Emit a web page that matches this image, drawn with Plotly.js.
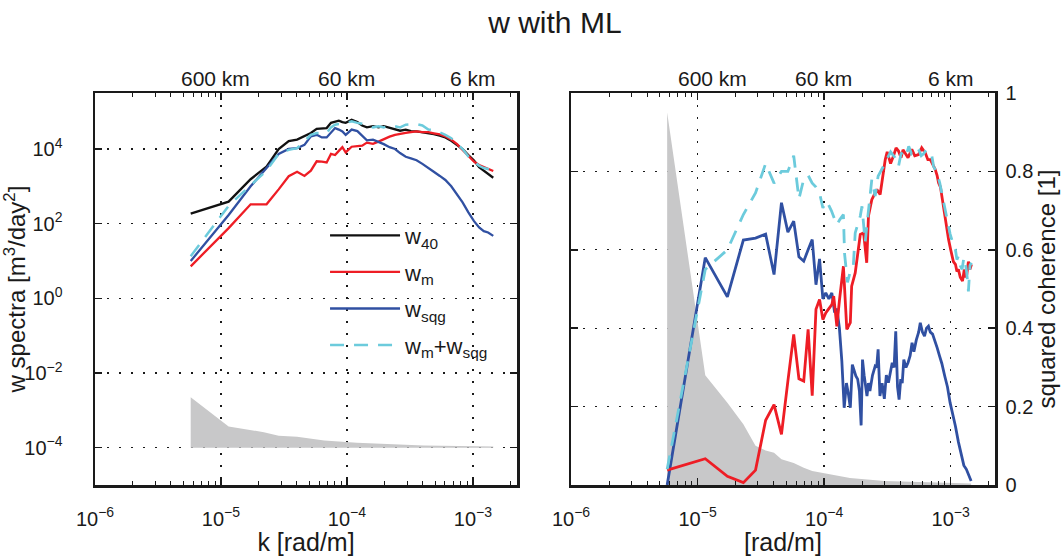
<!DOCTYPE html>
<html><head><meta charset="utf-8">
<script src="https://cdn.plot.ly/plotly-3.0.1.min.js"></script>
<style>html,body{margin:0;padding:0;background:#fff}#chart{width:1063px;height:556px}</style>
</head><body><div id="chart"></div>
<script>
// ---------- data ----------
// wavenumber k [rad/m] for the spectra
const kSpec = [5.75e-6, 1.15e-5, 1.72e-5, 2.3e-5, 2.87e-5, 3.45e-5, 4.02e-5, 4.6e-5, 5.17e-5, 5.75e-5,
  6.32e-5, 6.9e-5, 7.47e-5, 8.05e-5, 8.62e-5, 9.2e-5, 9.77e-5, 1.09e-4, 1.21e-4, 1.32e-4,
  1.44e-4, 1.61e-4, 1.78e-4, 1.96e-4, 2.18e-4, 2.41e-4, 2.64e-4, 2.93e-4, 3.22e-4, 3.57e-4,
  3.97e-4, 4.43e-4, 4.89e-4, 5.46e-4, 6.04e-4, 6.73e-4, 7.48e-4, 8.28e-4, 9.2e-4, 1.02e-3,
  1.12e-3, 1.22e-3, 1.32e-3, 1.41e-3, 1.45e-3];
// w spectra [m^3/day^2]
const w40 = [186, 389, 1550, 3390, 10000, 16200, 17800, 21900, 26900, 34700,
  35500, 36300, 50100, 55000, 57500, 52500, 50100, 60300, 52500, 42700,
  38000, 40700, 38000, 40700, 36300, 33100, 30900, 33100, 30200, 29500,
  28200, 26900, 25100, 22900, 20400, 16600, 12900, 10000, 6900, 4900,
  3240, 2630, 2140, 1860, 1700];
const wM = [7.2, 76, 330, 330, 830, 1860, 2450, 1900, 2630, 4680,
  4570, 4370, 7400, 6900, 8900, 11200, 8100, 11500, 12000, 12300,
  14800, 13800, 15800, 18600, 21400, 24000, 25700, 26900, 28200, 29500,
  28200, 28200, 26300, 24500, 21900, 17800, 13500, 9500, 6200, 4570,
  3720, 3240, 2880, 2690, 2570];
const wSqg = [10, 170, 1000, 3020, 7400, 10000, 10500, 12900, 21900, 24000,
  20400, 20400, 28200, 36300, 33100, 29500, 24000, 33100, 30200, 22900,
  17000, 17800, 15800, 13500, 11200, 10000, 7800, 6200, 5600, 5000,
  4000, 3020, 2450, 1900, 1480, 1000, 620, 370, 200, 117,
  79, 63, 58, 51, 47];
const wSum = [13.5, 300, 1070, 2630, 7400, 9500, 10500, 16600, 24000, 26900,
  26900, 26900, 38000, 44700, 46800, 46800, 50100, 55000, 50100, 46800,
  44700, 38000, 40700, 38000, 42700, 40700, 38000, 44700, 44700, 46800,
  42700, 33100, 32400, 28200, 24000, 19500, 14100, 10000, 6300, 4570,
  3550, 3090, 2880, 2750, 2690];
// grey band in the spectra panel
const specErrK = [5.75e-6, 1.15e-5, 2.19e-5, 2.87e-5, 4.02e-5, 6.6e-5, 1.2e-4, 2.21e-4, 4.07e-4, 1.45e-3];
const specErr = [2.24e-3, 3.7e-4, 2.6e-4, 2.1e-4, 1.95e-4, 1.55e-4, 1.35e-4, 1.23e-4, 1.15e-4, 1.07e-4];
const specErrBase = 1e-4;

// squared coherence
const cohSqgK = [5.75e-6, 1.15e-5, 1.72e-5, 2.3e-5, 2.87e-5, 3.45e-5, 4.02e-5, 4.6e-5, 5.17e-5, 5.75e-5,
  6.32e-5, 6.9e-5, 7.47e-5, 8.05e-5, 8.62e-5, 9.2e-5, 9.77e-5, 1.03e-4, 1.09e-4, 1.15e-4,
  1.21e-4, 1.26e-4, 1.32e-4, 1.38e-4, 1.44e-4, 1.5e-4, 1.55e-4, 1.61e-4, 1.67e-4, 1.73e-4,
  1.78e-4, 1.84e-4, 1.9e-4, 1.96e-4, 2.01e-4, 2.07e-4, 2.13e-4, 2.18e-4, 2.24e-4, 2.3e-4,
  2.41e-4, 2.53e-4, 2.6e-4, 2.67e-4, 2.76e-4, 2.87e-4, 2.99e-4, 3.1e-4, 3.22e-4, 3.33e-4,
  3.45e-4, 3.57e-4, 3.68e-4, 3.8e-4, 3.91e-4, 4.03e-4, 4.14e-4, 4.26e-4, 4.43e-4, 4.6e-4,
  4.78e-4, 4.95e-4, 5.12e-4, 5.35e-4, 5.58e-4, 5.75e-4, 5.98e-4, 6.21e-4, 6.44e-4, 6.67e-4,
  6.9e-4, 7.19e-4, 7.48e-4, 7.82e-4, 8.17e-4, 8.51e-4, 8.97e-4, 9.43e-4, 9.89e-4, 1.04e-3,
  1.09e-3, 1.15e-3, 1.21e-3, 1.27e-3, 1.33e-3, 1.39e-3, 1.45e-3];
const cohSqg = [0, 0.58, 0.48, 0.625, 0.63, 0.64, 0.537, 0.72, 0.645, 0.673,
  0.582, 0.571, 0.60, 0.626, 0.511, 0.577, 0.475, 0.49, 0.475, 0.49,
  0.44, 0.45, 0.40, 0.316, 0.197, 0.26, 0.235, 0.197, 0.307, 0.29,
  0.278, 0.27, 0.24, 0.152, 0.32, 0.28, 0.25, 0.227, 0.26, 0.24,
  0.28, 0.303, 0.30, 0.346, 0.227, 0.26, 0.22, 0.28, 0.261, 0.29,
  0.312, 0.30, 0.392, 0.25, 0.218, 0.27, 0.26, 0.32, 0.30, 0.312,
  0.33, 0.363, 0.34, 0.37, 0.39, 0.414, 0.39, 0.38, 0.40, 0.405,
  0.39, 0.385, 0.371, 0.35, 0.329, 0.31, 0.278, 0.25, 0.21, 0.18,
  0.15, 0.11, 0.08, 0.05, 0.04, 0.025, 0.01];
const cohMK = [5.75e-6, 1.15e-5, 1.72e-5, 2.3e-5, 2.87e-5, 3.45e-5, 4.02e-5, 4.6e-5, 5.17e-5, 5.75e-5,
  6.32e-5, 6.9e-5, 7.47e-5, 8.05e-5, 8.62e-5, 9.2e-5, 9.77e-5, 1.03e-4, 1.09e-4, 1.15e-4,
  1.19e-4, 1.26e-4, 1.32e-4, 1.38e-4, 1.42e-4, 1.51e-4, 1.61e-4, 1.65e-4, 1.76e-4, 1.93e-4,
  2.05e-4, 2.17e-4, 2.24e-4, 2.38e-4, 2.61e-4, 2.77e-4, 2.94e-4, 3.04e-4, 3.15e-4, 3.23e-4,
  3.35e-4, 3.53e-4, 3.7e-4, 3.87e-4, 4.05e-4, 4.2e-4, 4.38e-4, 4.6e-4, 4.93e-4, 5.2e-4,
  5.57e-4, 5.9e-4, 6.3e-4, 6.6e-4, 6.9e-4, 7.55e-4, 7.8e-4, 8.02e-4, 8.3e-4, 8.51e-4,
  8.8e-4, 9.06e-4, 9.3e-4, 9.62e-4, 1.0e-3, 1.02e-3, 1.05e-3, 1.09e-3, 1.12e-3, 1.15e-3,
  1.19e-3, 1.24e-3, 1.28e-3, 1.31e-3, 1.34e-3, 1.38e-3, 1.42e-3, 1.46e-3];
const cohM = [0.038, 0.067, 0.022, 0.006, 0.038, 0.165, 0.205, 0.129, 0.265, 0.384,
  0.271, 0.265, 0.397, 0.228, 0.448, 0.473, 0.422, 0.439, 0.45, 0.46,
  0.482, 0.405, 0.47, 0.52, 0.558, 0.397, 0.414, 0.507, 0.541, 0.639,
  0.643, 0.567, 0.686, 0.728, 0.754, 0.741, 0.796, 0.83, 0.85, 0.84,
  0.82, 0.839, 0.86, 0.852, 0.835, 0.855, 0.847, 0.835, 0.856, 0.84,
  0.843, 0.86, 0.847, 0.83, 0.83, 0.805, 0.79, 0.771, 0.76, 0.737,
  0.70, 0.677, 0.66, 0.626, 0.60, 0.584, 0.57, 0.563, 0.545, 0.55,
  0.53, 0.52, 0.55, 0.53, 0.537, 0.57, 0.55, 0.563];
const cohSumK = [5.75e-6, 1.15e-5, 1.72e-5, 2.3e-5, 2.87e-5, 3.45e-5, 4.02e-5, 4.6e-5, 5.17e-5, 5.75e-5,
  6.32e-5, 6.9e-5, 7.47e-5, 8.05e-5, 8.62e-5, 9.2e-5, 9.77e-5, 1.05e-4, 1.14e-4, 1.26e-4,
  1.33e-4, 1.42e-4, 1.45e-4, 1.53e-4, 1.61e-4, 1.7e-4, 1.76e-4, 1.93e-4, 1.99e-4, 2.11e-4,
  2.24e-4, 2.38e-4, 2.53e-4, 2.67e-4, 2.94e-4, 3.04e-4, 3.12e-4, 3.35e-4, 3.63e-4, 3.87e-4,
  4.05e-4, 4.25e-4, 4.45e-4, 4.66e-4, 4.9e-4, 5.1e-4, 5.35e-4, 5.57e-4, 5.85e-4, 6.1e-4,
  6.45e-4, 6.8e-4, 7.1e-4, 7.32e-4, 7.8e-4, 8.2e-4, 8.51e-4, 8.75e-4, 9.0e-4, 9.3e-4,
  9.62e-4, 9.9e-4, 1.02e-3, 1.05e-3, 1.09e-3, 1.12e-3, 1.15e-3, 1.19e-3, 1.23e-3, 1.27e-3,
  1.3e-3, 1.34e-3, 1.38e-3, 1.42e-3, 1.46e-3];
const cohSum = [0.04, 0.55, 0.60, 0.69, 0.745, 0.82, 0.77, 0.80, 0.80, 0.84,
  0.73, 0.78, 0.79, 0.77, 0.76, 0.745, 0.707, 0.724, 0.70, 0.664,
  0.677, 0.69, 0.59, 0.517, 0.545, 0.558, 0.643, 0.686, 0.711, 0.62,
  0.70, 0.779, 0.737, 0.788, 0.813, 0.826, 0.83, 0.85, 0.835, 0.813,
  0.845, 0.85, 0.84, 0.864, 0.845, 0.85, 0.86, 0.856, 0.84, 0.845,
  0.856, 0.845, 0.839, 0.813, 0.796, 0.77, 0.745, 0.72, 0.70, 0.68,
  0.66, 0.64, 0.626, 0.61, 0.60, 0.575, 0.584, 0.56, 0.55, 0.58,
  0.571, 0.54, 0.494, 0.56, 0.567];
// grey significance level for the coherence
const cohSigK = [5.75e-6, 1.15e-5, 1.72e-5, 2.3e-5, 2.87e-5, 3.45e-5, 4.02e-5, 4.6e-5, 5.75e-5, 6.9e-5,
  8.05e-5, 9.77e-5, 1.6e-4, 3.0e-4, 7.6e-4, 1.45e-3];
const cohSig = [0.95, 0.28, 0.21, 0.155, 0.10, 0.088, 0.082, 0.066, 0.056, 0.044,
  0.036, 0.031, 0.018, 0.01, 0.006, 0.004];

// tick labels
const xTickVals = [1e-6, 1e-5, 1e-4, 1e-3];
const xTickText = ['10<sup>\u22126</sup>', '10<sup>\u22125</sup>', '10<sup>\u22124</sup>', '10<sup>\u22123</sup>'];
const ySpecTickVals = [1e-4, 1e-2, 1, 1e2, 1e4];
const ySpecTickText = ['10<sup>\u22124</sup>', '10<sup>\u22122</sup>', '10<sup>0</sup>', '10<sup>2</sup>', '10<sup>4</sup>'];
const yCohTickVals = [0, 0.2, 0.4, 0.6, 0.8, 1];
const yCohTickText = ['0', '0.2', '0.4', '0.6', '0.8', '1'];
const topLabels = ['600 km', '60 km', '6 km'];

// ---------- style ----------
const FONT = 'Liberation Sans, Arial, Helvetica, sans-serif';
const INK = '#1a1a1a';
const C_BLACK = '#111111', C_RED = '#ee1d25', C_BLUE = '#3050a2', C_CYAN = '#6ccbdc', C_GREY = '#c8c8c9';

const minorK = [];
for (let d = -6; d <= -3; d++) for (let m = 2; m <= 9; m++) minorK.push(m * Math.pow(10, d));

function xAxis(domain, anchor, title) {
  return {
    type: 'log', domain: domain, anchor: anchor, range: [-6, -2.65],
    tickmode: 'array', tickvals: xTickVals, ticktext: xTickText,
    ticks: 'inside', ticklen: 7, tickwidth: 1.5, tickcolor: INK,
    showline: true, linewidth: 2.5, linecolor: INK, mirror: 'ticks',
    showgrid: true, gridcolor: INK, gridwidth: 1.3, griddash: '2px,10px',
    zeroline: false, ticklabelstandoff: 14,
    tickfont: {family: FONT, size: 20, color: INK},
    minor: {tickmode: 'array', tickvals: minorK, ticks: 'inside', ticklen: 4, tickwidth: 1, tickcolor: INK, showgrid: false},
    title: {text: title, font: {family: FONT, size: 25, color: INK}, standoff: 2}
  };
}

const traces = [
  {x: [specErrK[0], specErrK[specErrK.length - 1]], y: [specErrBase, specErrBase], xaxis: 'x', yaxis: 'y',
   mode: 'lines', line: {width: 0, color: C_GREY}, showlegend: false, hoverinfo: 'skip'},
  {x: specErrK, y: specErr, xaxis: 'x', yaxis: 'y', mode: 'lines', fill: 'tonexty', fillcolor: C_GREY,
   line: {width: 0, color: C_GREY}, showlegend: false, hoverinfo: 'skip'},
  {x: kSpec, y: w40, xaxis: 'x', yaxis: 'y', mode: 'lines', name: 'w<sub>40</sub>', legendgroup: 'a',
   line: {color: C_BLACK, width: 2.3}},
  {x: kSpec, y: wM, xaxis: 'x', yaxis: 'y', mode: 'lines', name: 'w<sub>m</sub>', legendgroup: 'b',
   line: {color: C_RED, width: 2.3}},
  {x: kSpec, y: wSqg, xaxis: 'x', yaxis: 'y', mode: 'lines', name: 'w<sub>sqg</sub>', legendgroup: 'c',
   line: {color: C_BLUE, width: 2.3}},
  {x: kSpec, y: wSum, xaxis: 'x', yaxis: 'y', mode: 'lines', name: 'w<sub>m</sub>+w<sub>sqg</sub>', legendgroup: 'd',
   line: {color: C_CYAN, width: 2.5, dash: '14px,10px'}},

  {x: cohSigK, y: cohSig, xaxis: 'x2', yaxis: 'y2', mode: 'lines', fill: 'tozeroy', fillcolor: C_GREY,
   line: {width: 0, color: C_GREY}, showlegend: false, hoverinfo: 'skip'},
  {x: cohSqgK, y: cohSqg, xaxis: 'x2', yaxis: 'y2', mode: 'lines', line: {color: C_BLUE, width: 2.8}, showlegend: false},
  {x: cohMK, y: cohM, xaxis: 'x2', yaxis: 'y2', mode: 'lines', line: {color: C_RED, width: 2.8}, showlegend: false},
  {x: cohSumK, y: cohSum, xaxis: 'x2', yaxis: 'y2', mode: 'lines', line: {color: C_CYAN, width: 2.8, dash: '14px,10px'}, showlegend: false}
];

const annotations = [];
const topPosL = [-5.044, -4.0, -3.0];
const topPosR = [-4.884, -4.007, -3.0];
topLabels.forEach((t, i) => {
  annotations.push({text: t, xref: 'x', yref: 'paper', x: topPosL[i], y: 1.038, yanchor: 'middle', xanchor: 'center',
    showarrow: false, font: {family: FONT, size: 21, color: INK}});
  annotations.push({text: t, xref: 'x2', yref: 'paper', x: topPosR[i], y: 1.038, yanchor: 'middle', xanchor: 'center',
    showarrow: false, font: {family: FONT, size: 21, color: INK}});
});

const layout = {
  width: 1063, height: 556,
  margin: {l: 95, r: 68, t: 93, b: 71},
  paper_bgcolor: '#ffffff', plot_bgcolor: '#ffffff',
  font: {family: FONT, color: INK},
  title: {text: 'w with ML', font: {family: FONT, size: 30, color: INK}, x: 0.522, xref: 'container', xanchor: 'center',
    y: 0.96, yref: 'container', yanchor: 'middle'},
  xaxis: xAxis([0, 0.4689], 'y', 'k [rad/m]'),
  xaxis2: xAxis([0.5289, 1], 'y2', '[rad/m]'),
  yaxis: {
    type: 'log', anchor: 'x', range: [-5, 5.5],
    tickmode: 'array', tickvals: ySpecTickVals, ticktext: ySpecTickText,
    ticks: 'inside', ticklen: 7, tickwidth: 1.5, tickcolor: INK,
    showline: true, linewidth: 2.5, linecolor: INK, mirror: 'ticks',
    showgrid: true, gridcolor: INK, gridwidth: 1.3, griddash: '2px,10px',
    zeroline: false, ticklabelstandoff: 26,
    tickfont: {family: FONT, size: 20, color: INK},
    title: {text: 'w spectra [m<sup>3</sup>/day<sup>2</sup>]', font: {family: FONT, size: 24, color: INK}, standoff: 2}
  },
  yaxis2: {
    anchor: 'x2', side: 'right', range: [0, 1],
    tickmode: 'array', tickvals: yCohTickVals, ticktext: yCohTickText,
    ticks: 'inside', ticklen: 7, tickwidth: 1.5, tickcolor: INK,
    showline: true, linewidth: 2.5, linecolor: INK, mirror: 'ticks',
    showgrid: true, gridcolor: INK, gridwidth: 1.3, griddash: '2px,10px',
    zeroline: false, ticklabelstandoff: 4,
    tickfont: {family: FONT, size: 20, color: INK},
    title: {text: 'squared coherence [1]', font: {family: FONT, size: 24, color: INK}, standoff: 6}
  },
  legend: {x: 0.2556, y: 0.69, xanchor: 'left', yanchor: 'top', bgcolor: 'rgba(0,0,0,0)',
    font: {family: FONT, size: 22, color: INK}, itemwidth: 70, traceorder: 'grouped', tracegroupgap: 5},
  annotations: annotations,
  showlegend: true
};

Plotly.newPlot('chart', traces, layout, {displayModeBar: false, staticPlot: true});
</script>
</body></html>
